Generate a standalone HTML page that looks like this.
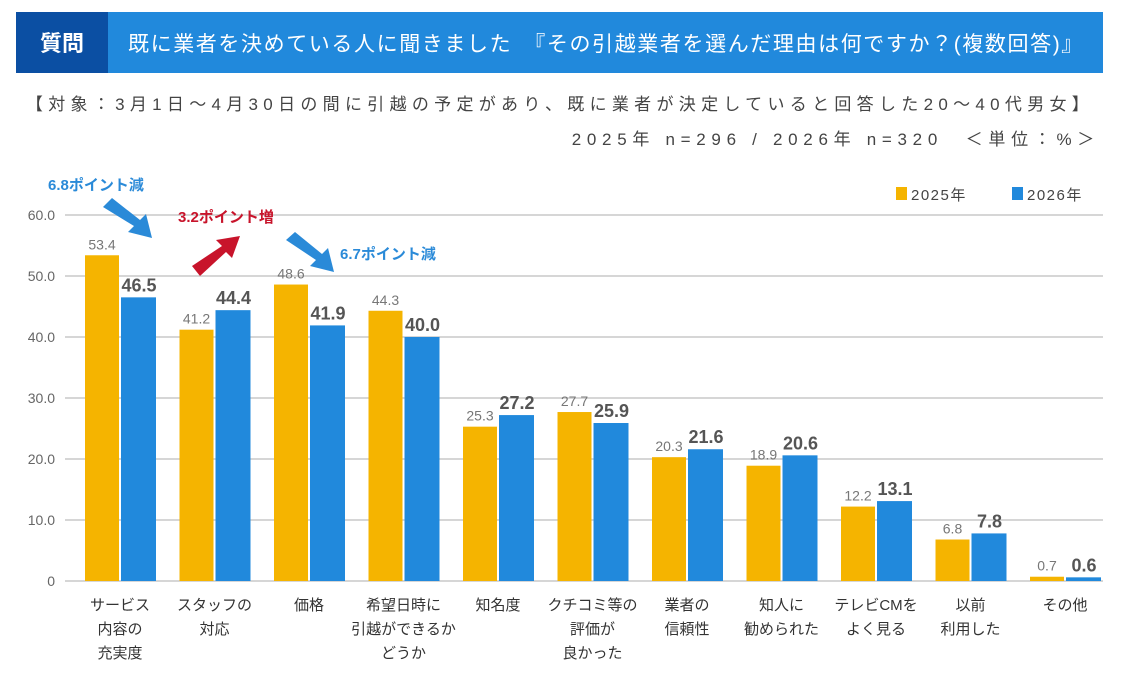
<!DOCTYPE html>
<html><head><meta charset="utf-8">
<style>
body{margin:0;width:1140px;height:693px;background:#fff;overflow:hidden;font-family:"Liberation Sans","Noto Sans CJK JP",sans-serif;}
svg text{font-family:"Liberation Sans","Noto Sans CJK JP",sans-serif;}
</style></head>
<body>
<svg id="c" width="1140" height="693">
<rect x="16" y="12" width="1087" height="61" fill="#2189dc"/>
<rect x="16" y="12" width="92" height="61" fill="#0b4fa3"/>
<text x="62" y="51" font-size="22" font-weight="bold" fill="#fff" text-anchor="middle">質問</text>
<text x="128" y="51" font-size="21" fill="#fff" letter-spacing="1.6">既に業者を決めている人に聞きました　『その引越業者を選んだ理由は何ですか？(複数回答)』</text>
<text x="560" y="110" font-size="17" fill="#444" text-anchor="middle" letter-spacing="5.3">【対象：3月1日～4月30日の間に引越の予定があり、既に業者が決定していると回答した20～40代男女】</text>
<text x="1100" y="145" font-size="17" fill="#444" text-anchor="end" letter-spacing="5.7">2025年 n=296 / 2026年 n=320　＜単位：%＞</text>
<rect x="896" y="187" width="11" height="13" fill="#f5b400"/>
<text x="911" y="200" font-size="15" fill="#444" letter-spacing="1.5">2025年</text>
<rect x="1012" y="187" width="11" height="13" fill="#2189dc"/>
<text x="1027" y="200" font-size="15" fill="#444" letter-spacing="1.5">2026年</text>
<g id="grid"></g><g id="bars"></g><g id="labels"></g>
<polygon points="103,207 112,198 140,220 146,214 152,238 128,232 134,226" fill="#2a8ad8"/>
<polygon points="192,266 200,276 226,252 232,258 240,236 216,240 222,246" fill="#c8142b"/>
<polygon points="286,240 295,232 322,254 328,248 334,272 310,266 316,260" fill="#2a8ad8"/>
<text x="48" y="190" font-size="15" font-weight="bold" fill="#2a8ad8">6.8ポイント減</text>
<text x="178" y="222" font-size="15" font-weight="bold" fill="#c8142b">3.2ポイント増</text>
<text x="340" y="259" font-size="15" font-weight="bold" fill="#2a8ad8">6.7ポイント減</text>
</svg>
<script>
const categories=[["サービス","内容の","充実度"],["スタッフの","対応"],["価格"],["希望日時に","引越ができるか","どうか"],["知名度"],["クチコミ等の","評価が","良かった"],["業者の","信頼性"],["知人に","勧められた"],["テレビCMを","よく見る"],["以前","利用した"],["その他"]];
const values2025=[53.4,41.2,48.6,44.3,25.3,27.7,20.3,18.9,12.2,6.8,0.7];
const values2026=[46.5,44.4,41.9,40.0,27.2,25.9,21.6,20.6,13.1,7.8,0.6];
const ticks=[0,10,20,30,40,50,60];
const tickLabels=["0","10.0","20.0","30.0","40.0","50.0","60.0"];
const NS="http://www.w3.org/2000/svg";
const y=v=>581-v*6.1;
const xc=i=>120+i*94.5;
function mk(tag,attrs,parent,txt){const e=document.createElementNS(NS,tag);for(const k in attrs)e.setAttribute(k,attrs[k]);if(txt!==undefined)e.textContent=txt;document.getElementById(parent).appendChild(e);return e;}
ticks.forEach((t,i)=>{
 const l=mk('line',{x1:65,x2:1103,y1:y(t),y2:y(t),stroke:'#d6d6d6','stroke-width':2},'grid');
 
 
 const tx=mk('text',{x:55,y:y(t)+5,'font-size':14,fill:'#666','text-anchor':'end'},'grid',tickLabels[i]);
 
 
});
categories.forEach((c,i)=>{
 const a=values2025[i],b=values2026[i];
 const r1=mk('rect',{x:xc(i)-35,y:y(a),width:34,height:581-y(a),fill:'#f5b400'},'bars');
 
 
 const r2=mk('rect',{x:xc(i)+1,y:y(b),width:35,height:581-y(b),fill:'#2189dc'},'bars');
 
 
 const t1=mk('text',{x:xc(i)-18,y:y(a)-6,'font-size':14,fill:'#777','text-anchor':'middle'},'labels',a.toFixed(1));
 
 
 const t2=mk('text',{x:xc(i)+19,y:y(b)-6,'font-size':18,'font-weight':'bold',fill:'#555','text-anchor':'middle'},'labels',b.toFixed(1));
 
 
 c.forEach((line,j)=>{
  const t=mk('text',{x:xc(i),y:610+j*24,'font-size':15,fill:'#333','text-anchor':'middle'},'labels',line);
  
  
 });
});
</script>
</body></html>
